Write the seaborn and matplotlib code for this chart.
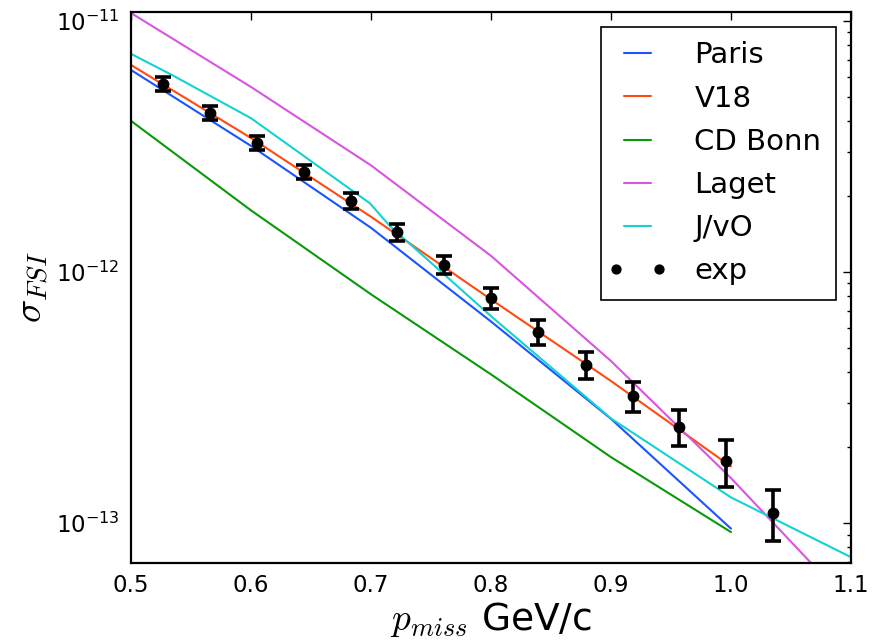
import numpy as np
import pandas as pd
import matplotlib
matplotlib.use("Agg")
import matplotlib.pyplot as plt
import seaborn as sns
from matplotlib.legend_handler import HandlerLine2D
from matplotlib.ticker import FixedLocator, FormatStrFormatter, LogLocator, NullFormatter

# theory curves
p_theory = [0.5, 0.6, 0.7, 0.8, 0.9, 1.0]
paris = [6.38e-12, 3.18e-12, 1.50e-12, 6.35e-13, 2.60e-13, 9.5e-14]
v18 = [6.68e-12, 3.42e-12, 1.66e-12, 7.78e-13, 3.68e-13, 1.68e-13]
cd_bonn = [4.0e-12, 1.76e-12, 8.15e-13, 3.91e-13, 1.83e-13, 9.2e-14]

p_laget = [0.5, 0.6, 0.7, 0.8, 0.9, 1.0, 1.1]
laget = [1.076e-11, 5.46e-12, 2.66e-12, 1.16e-12, 4.42e-13, 1.51e-13, 4.7e-14]

p_jvo = [0.5, 0.534, 0.6, 0.699, 0.716, 0.8, 0.9, 1.0, 1.1]
jvo = [7.40e-12, 6.10e-12, 4.10e-12, 1.88e-12, 1.52e-12, 6.67e-13, 2.61e-13, 1.265e-13, 7.31e-14]

# experiment
p_exp = [0.527, 0.566, 0.605, 0.644, 0.683, 0.722, 0.761, 0.800, 0.839, 0.879, 0.918, 0.957, 0.996, 1.035]
sigma_exp = [5.62e-12, 4.30e-12, 3.28e-12, 2.50e-12, 1.92e-12, 1.445e-12, 1.07e-12,
             7.89e-13, 5.78e-13, 4.28e-13, 3.21e-13, 2.42e-13, 1.77e-13, 1.10e-13]
err_exp = [0.34e-12, 0.27e-12, 0.21e-12, 0.16e-12, 0.136e-12, 0.114e-12, 0.092e-12,
           0.076e-12, 0.066e-12, 0.053e-12, 0.043e-12, 0.040e-12, 0.038e-12, 0.025e-12]

x_ticks = [0.5, 0.6, 0.7, 0.8, 0.9, 1.0, 1.1]

sns.set_style("white")
plt.rcParams["font.family"] = ["DejaVu Sans"]
plt.rcParams["mathtext.fontset"] = "cm"
plt.rcParams["xtick.direction"] = "in"
plt.rcParams["ytick.direction"] = "in"
plt.rcParams["text.color"] = "black"
plt.rcParams["axes.labelcolor"] = "black"
plt.rcParams["xtick.color"] = "black"
plt.rcParams["ytick.color"] = "black"

fig = plt.figure(figsize=(8.75, 6.44), dpi=100)
ax = fig.add_axes([131 / 875, 1 - 563 / 644, 720 / 875, 551 / 644])

curves = [
    ("Paris", p_theory, paris, "#1a55ff"),
    ("V18", p_theory, v18, "#ff4a12"),
    ("CD Bonn", p_theory, cd_bonn, "#0a990a"),
    ("Laget", p_laget, laget, "#d855e0"),
    ("J/vO", p_jvo, jvo, "#14d2d2"),
]
for name, xs, ys, col in curves:
    df = pd.DataFrame({"p": xs, "sigma": ys})
    sns.lineplot(data=df, x="p", y="sigma", ax=ax, color=col, lw=1.5,
                 label=name, sort=False, estimator=None)

ax.errorbar(p_exp, sigma_exp, yerr=err_exp, fmt="none", ecolor="black",
            elinewidth=2.6, capsize=6, capthick=2.6, zorder=5)
exp_pts, = ax.plot(p_exp, sigma_exp, "o", color="black", ms=7.5, label="exp", zorder=6)

ax.set_yscale("log")
ax.set_xlim(0.5, 1.1)
ax.set_ylim(6.93e-14, 1.086e-11)
ax.xaxis.set_major_locator(FixedLocator(x_ticks))
ax.xaxis.set_major_formatter(FormatStrFormatter("%.1f"))
ax.yaxis.set_minor_locator(LogLocator(base=10, subs=np.arange(2, 10)))
ax.yaxis.set_minor_formatter(NullFormatter())
ax.tick_params(which="major", length=6, width=1, top=True, right=True, labelsize=16.5, pad=8)
ax.tick_params(which="minor", length=3, width=1, top=True, right=True)
for s in ax.spines.values():
    s.set_linewidth(1.6)
    s.set_color("black")

ax.set_xlabel(r"$p_{miss}$ GeV/c", fontsize=27, labelpad=2)
ax.set_ylabel(r"$\sigma_{FSI}$", fontsize=28, labelpad=4)

leg = ax.legend(loc="upper right", bbox_to_anchor=(0.979, 0.973), borderaxespad=0,
                fontsize=21, numpoints=2, markerscale=0.85, frameon=True, fancybox=False,
                framealpha=1, edgecolor="black", handlelength=1.5,
                handletextpad=1.2, labelspacing=0.52, borderpad=0.5,
                handler_map={exp_pts: HandlerLine2D(marker_pad=0, numpoints=2)})
leg.get_frame().set_linewidth(1.2)

fig.savefig("out.png", dpi=100)
